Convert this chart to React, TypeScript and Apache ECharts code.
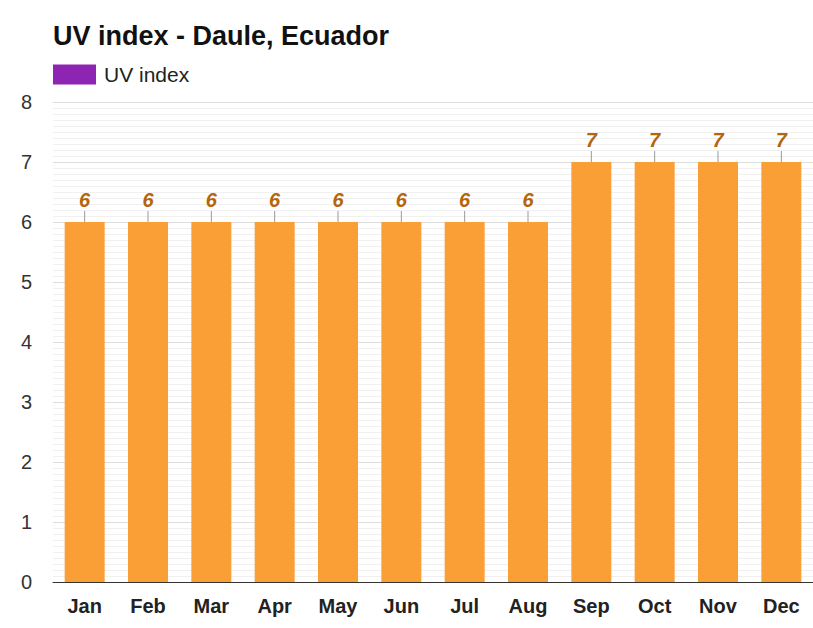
import React, { useEffect, useRef } from "react";
import * as echarts from "echarts";

const months = ["Jan", "Feb", "Mar", "Apr", "May", "Jun", "Jul", "Aug", "Sep", "Oct", "Nov", "Dec"];
const uvIndex = [6, 6, 6, 6, 6, 6, 6, 6, 7, 7, 7, 7];
const yTicks = [0, 1, 2, 3, 4, 5, 6, 7, 8];

const FONT = "'Liberation Sans', Arial, Helvetica, sans-serif";

export default function App() {
  const ref = useRef<HTMLDivElement>(null);
  useEffect(() => {
    if (!ref.current) return;
    const chart = echarts.init(ref.current, null, { renderer: "svg" });
    chart.setOption({
      animation: false,
      backgroundColor: "#ffffff",
      title: {
        text: "UV index - Daule, Ecuador",
        left: 48,
        top: 17,
        textStyle: { fontFamily: FONT, fontSize: 27, fontWeight: "bold", color: "#111" },
      },
      legend: {
        left: 48,
        top: 59,
        itemWidth: 43,
        itemHeight: 20,
        itemGap: 8,
        textStyle: { fontFamily: FONT, fontSize: 21, color: "#222", padding: [0, 0, 0, 3] },
        data: [{ name: "UV index", icon: "rect", itemStyle: { color: "#8e24b2" } }],
        selectedMode: false,
      },
      grid: { left: 53, top: 102, width: 766, height: 480, containLabel: false },
      xAxis: {
        type: "category",
        data: months,
        axisTick: { show: false },
        axisLine: { show: true, lineStyle: { color: "#333", width: 1 } },
        axisLabel: { fontFamily: FONT, fontSize: 20, fontWeight: "bold", color: "#222", margin: 14 },
      },
      yAxis: {
        type: "value",
        min: yTicks[0],
        max: yTicks[yTicks.length - 1],
        interval: 1,
        axisLine: { show: false },
        axisTick: { show: false },
        axisLabel: { fontFamily: FONT, fontSize: 20, color: "#333", margin: 21 },
        splitLine: { show: true, lineStyle: { color: "#dedede", width: 1 } },
        minorTick: { show: false, splitNumber: 10 },
        minorSplitLine: { show: true, lineStyle: { color: "#f0f0f0", width: 1 } },
      },
      series: [
        {
          name: "UV index",
          type: "bar",
          data: uvIndex,
          barWidth: 40,
          itemStyle: { color: "#fa9f35" },
          label: {
            show: true,
            position: "top",
            distance: 12,
            fontFamily: FONT,
            fontSize: 20,
            fontWeight: "bold",
            fontStyle: "italic",
            color: "#b5650c",
          },
          z: 2,
        },
        {
          name: "ticks",
          type: "custom",
          data: uvIndex.map((v, i) => [i, v]),
          renderItem: (params: any, api: any) => {
            const p = api.coord([api.value(0), api.value(1)]);
            return {
              type: "line",
              shape: { x1: p[0], y1: p[1], x2: p[0], y2: p[1] - 11 },
              style: { stroke: "#999", lineWidth: 1 },
            };
          },
          z: 3,
          silent: true,
        },
      ],
    });
    return () => chart.dispose();
  }, []);
  return <div ref={ref} style={{ width: 813, height: 628, position: "absolute", left: 0, top: 0 }} />;
}
